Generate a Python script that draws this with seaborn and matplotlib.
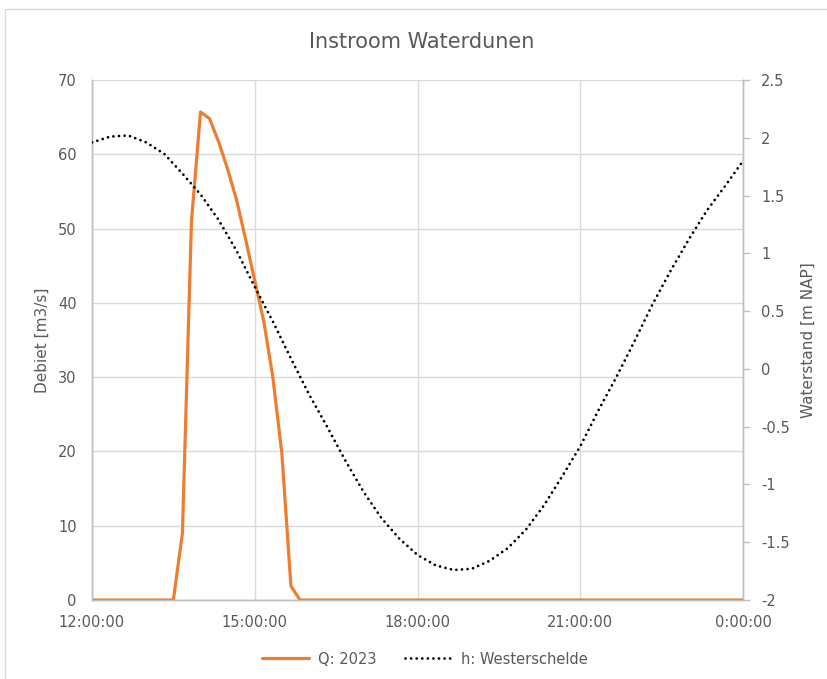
import numpy as np
import pandas as pd
import matplotlib
matplotlib.use("Agg")
import matplotlib.pyplot as plt
from matplotlib.patches import Rectangle
from matplotlib.ticker import FuncFormatter
import seaborn as sns

# Inflow discharge Q (m3/s), every 10 minutes from 12:00 to 0:00
q_2023 = [0, 0, 0, 0, 0, 0, 0, 0, 0, 0,
          9.0, 51.0, 65.7, 64.8, 61.7, 58.0, 53.8, 48.5, 43.0, 37.5,
          30.0, 19.7, 1.9,
          0, 0, 0, 0, 0, 0, 0, 0, 0, 0,
          0, 0, 0, 0, 0, 0, 0, 0, 0, 0,
          0, 0, 0, 0, 0, 0, 0, 0, 0, 0,
          0, 0, 0, 0, 0, 0, 0, 0, 0, 0,
          0, 0, 0, 0, 0, 0, 0, 0, 0, 0]
q_step_min = 10

# Water level Westerschelde (m NAP), every 20 minutes from 12:00 to 0:00
h_westerschelde = [1.96, 2.01, 2.02, 1.96, 1.86, 1.69, 1.51, 1.29, 1.02,
                   0.71, 0.41, 0.09, -0.22, -0.50, -0.79, -1.06, -1.29,
                   -1.47, -1.61, -1.70, -1.74, -1.73, -1.66, -1.55, -1.39,
                   -1.18, -0.93, -0.67, -0.36, -0.07, 0.24, 0.56, 0.85,
                   1.12, 1.37, 1.58, 1.80]
h_step_min = 20

x_tick_hours = [0, 3, 6, 9, 12]
x_tick_labels = ["12:00:00", "15:00:00", "18:00:00", "21:00:00", "0:00:00"]
left_ticks = [0, 10, 20, 30, 40, 50, 60, 70]
right_ticks = [-2, -1.5, -1, -0.5, 0, 0.5, 1, 1.5, 2, 2.5]

df_q = pd.DataFrame({"uur": np.arange(len(q_2023)) * q_step_min / 60.0,
                     "Q": q_2023})
df_h = pd.DataFrame({"uur": np.arange(len(h_westerschelde)) * h_step_min / 60.0,
                     "h": h_westerschelde})

sns.set_theme(style="white")
plt.rcParams["font.family"] = ["DejaVu Sans"]
plt.rcParams["axes.unicode_minus"] = False

text_col = "#595959"
grid_col = "#d9d9d9"
orange = "#ED7D31"

fig = plt.figure(figsize=(8.27, 6.79), dpi=100)
fig.patches.append(Rectangle((5 / 827, -0.05), 1.2, 1 - 9 / 679 + 0.05,
                             transform=fig.transFigure, fill=False,
                             edgecolor="#d9d9d9", linewidth=1.0, zorder=0))

ax = fig.add_axes([92 / 827, 1 - 600 / 679, (743 - 92) / 827, (600 - 80) / 679])
ax2 = ax.twinx()

sns.lineplot(data=df_q, x="uur", y="Q", ax=ax, color=orange, linewidth=2.3,
             label="Q: 2023", legend=False, zorder=3)
sns.lineplot(data=df_h, x="uur", y="h", ax=ax2, color="black", linewidth=2.0,
             linestyle=(0, (0.01, 2.0)), label="h: Westerschelde",
             legend=False, zorder=3)
for ln in ax2.get_lines():
    ln.set_dash_capstyle("round")
    ln.set_solid_joinstyle("round")

ax.set_xlim(0, 12)
ax.set_ylim(0, 70)
ax2.set_ylim(-2, 2.5)
ax.set_xticks(x_tick_hours)
ax.set_xticklabels(x_tick_labels)
ax.set_yticks(left_ticks)
ax2.set_yticks(right_ticks)
ax2.yaxis.set_major_formatter(FuncFormatter(lambda v, p: f"{v:g}"))

ax.grid(True, color=grid_col, linewidth=1.0)
ax.set_axisbelow(True)
ax2.grid(False)

for a in (ax, ax2):
    a.spines["top"].set_visible(False)
    for side in ("left", "right", "bottom"):
        a.spines[side].set_color("#bfbfbf")
        a.spines[side].set_linewidth(1.0)

ax.tick_params(axis="both", length=0, colors=text_col, labelsize=10.5)
ax.tick_params(axis="y", pad=11)
ax.tick_params(axis="x", pad=11)
ax2.tick_params(axis="y", length=5, width=1, color="#bfbfbf",
                colors=text_col, labelsize=10.5, pad=8)
ax2.tick_params(axis="y", color="#bfbfbf")

ax.set_xlabel("")
ax.set_ylabel("Debiet [m3/s]", color=text_col, fontsize=11, labelpad=6)
ax2.set_ylabel("Waterstand [m NAP]", color=text_col, fontsize=11, labelpad=8)

fig.text(422 / 827, 1 - 42 / 679, "Instroom Waterdunen", ha="center",
         va="center", color=text_col, fontsize=15)

handles = ax.get_lines()[:1] + ax2.get_lines()[:1]
fig.legend(handles, ["Q: 2023", "h: Westerschelde"], loc="center",
           bbox_to_anchor=(425 / 827, 1 - 659 / 679), ncol=2, frameon=False,
           fontsize=10.5, labelcolor=text_col, handlelength=3.2,
           columnspacing=2.0, handletextpad=0.6)

fig.savefig("out.png", dpi=100)
